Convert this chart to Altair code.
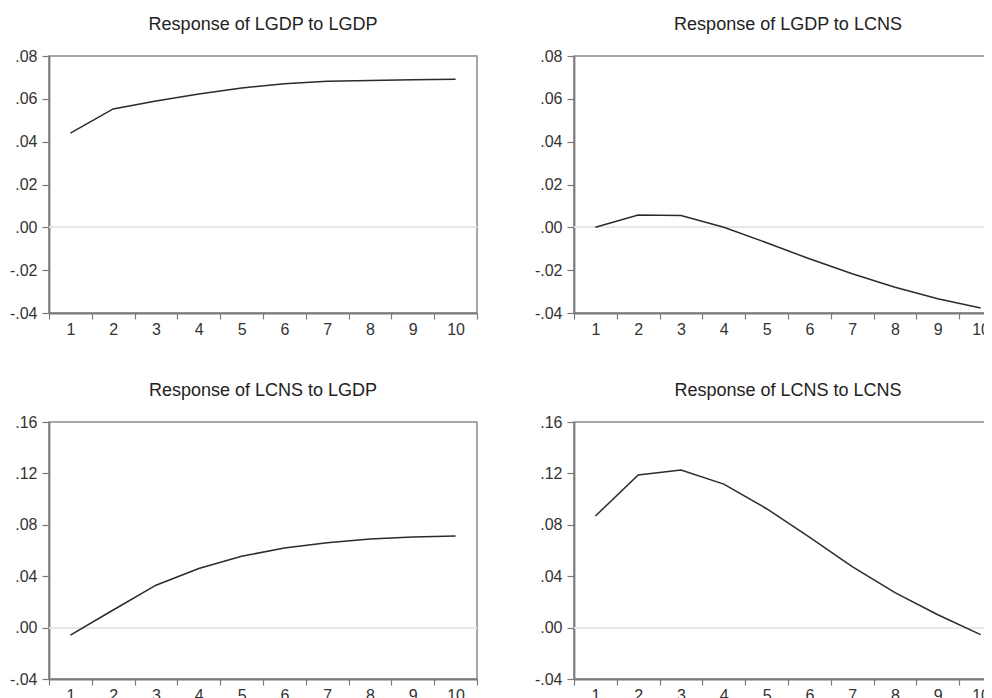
import altair as alt
import pandas as pd

periods = list(range(1, 11))

lgdp_to_lgdp = [0.0440, 0.0553, 0.0590, 0.0623, 0.0651, 0.0670, 0.0682, 0.0686, 0.0689, 0.0692]
lgdp_to_lcns = [0.0000, 0.0058, 0.0055, 0.0000, -0.0072, -0.0147, -0.0217, -0.0280, -0.0333, -0.0377]
lcns_to_lgdp = [-0.0059, 0.0137, 0.0330, 0.0460, 0.0555, 0.0620, 0.0660, 0.0690, 0.0705, 0.0712]
lcns_to_lcns = [0.0868, 0.1187, 0.1226, 0.1117, 0.0925, 0.0705, 0.0475, 0.0272, 0.0100, -0.0055]

titles = [
    "Response of LGDP to LGDP",
    "Response of LGDP to LCNS",
    "Response of LCNS to LGDP",
    "Response of LCNS to LCNS",
]

top_ticks = [-0.04, -0.02, 0.0, 0.02, 0.04, 0.06, 0.08]
top_domain = [-0.04, 0.08]
bottom_ticks = [-0.04, 0.0, 0.04, 0.08, 0.12, 0.16]
bottom_domain = [-0.04, 0.16]

FONT = "Liberation Sans"
AXIS_GRAY = "#7a7a7a"
LABEL_EXPR = "replace(replace(format(datum.value, '.2f'), '0.', '.'), '\u2212', '-')"


def panel(values, title, ticks, domain):
    df = pd.DataFrame({"period": periods, "response": values})
    x = alt.X(
        "period:O",
        scale=alt.Scale(type="band", paddingInner=0, paddingOuter=0),
        axis=alt.Axis(
            title=None,
            labelAngle=0,
            tickBand="extent",
            tickSize=6,
            labelPadding=2,
        ),
    )
    y = alt.Y(
        "response:Q",
        scale=alt.Scale(domain=domain, nice=False, zero=False),
        axis=alt.Axis(
            title=None,
            values=ticks,
            grid=False,
            tickSize=7,
            labelPadding=5,
            labelExpr=LABEL_EXPR,
        ),
    )
    base = alt.Chart(df)
    zero = base.mark_rule(color="#e6e6e6", strokeWidth=1.2).encode(y=alt.datum(0))
    line = base.mark_line(color="#2b2b2b", strokeWidth=1.5).encode(x=x, y=y)
    return alt.layer(zero, line).properties(
        width=428,
        height=257,
        title=alt.TitleParams(title, baseline="alphabetic", offset=0),
    )


p1 = panel(lgdp_to_lgdp, titles[0], top_ticks, top_domain)
p2 = panel(lgdp_to_lcns, titles[1], top_ticks, top_domain)
p3 = panel(lcns_to_lgdp, titles[2], bottom_ticks, bottom_domain)
p4 = panel(lcns_to_lcns, titles[3], bottom_ticks, bottom_domain)

chart = (
    alt.concat(p1, p2, p3, p4, columns=2, spacing={"row": 109, "column": 97}, bounds="flush")
    .properties(padding={"left": 0, "top": 7, "right": -20, "bottom": 0}, background="white")
    .configure_view(stroke="#8a8a8a", strokeWidth=1.5)
    .configure_axis(
        labelFont=FONT,
        labelFontSize=16,
        labelColor="#333333",
        domainColor=AXIS_GRAY,
        domainWidth=1.8,
        tickColor=AXIS_GRAY,
        tickWidth=1.2,
    )
    .configure_title(font=FONT, fontSize=18, fontWeight="normal", color="#222222", anchor="middle")
)

chart.save("out.html", embed_options={"renderer": "svg", "actions": False})
